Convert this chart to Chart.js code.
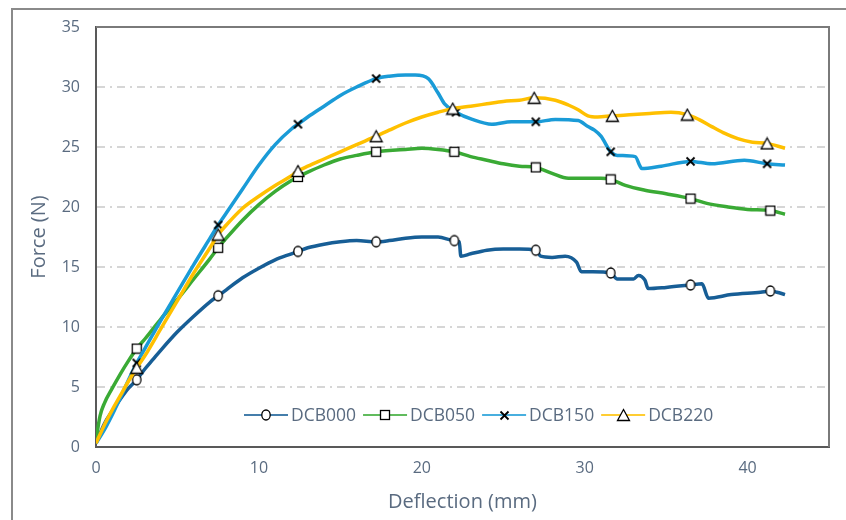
<!DOCTYPE html>
<html>
<head>
<meta charset="utf-8">
<script src="https://cdn.jsdelivr.net/npm/chart.js@4.4.1/dist/chart.umd.min.js"></script>
<style>
  html, body { margin: 0; padding: 0; background: #fff; }
  #wrap { width: 846px; height: 520px; }
</style>
</head>
<body>
<div id="wrap"><canvas id="forceChart" width="846" height="520"></canvas></div>
<script>
// Force vs deflection, one curve per DCB specimen
const labels = ['DCB000', 'DCB050', 'DCB150', 'DCB220'];
const colors = ['#175e96', '#3aaa35', '#1a9bd7', '#ffc000'];

const dcb000X = [0, 0.5, 1, 1.5, 2, 2.5, 3, 3.5, 4, 5, 6, 7, 7.5, 8, 9, 10, 11, 12, 12.4, 13, 14, 15, 16, 17.2, 18, 19, 20, 21, 22,
  22.3, 22.4, 23, 24, 25, 26, 27, 27.3, 28, 28.8, 29.5, 29.8, 30.5, 31.6, 32, 33, 33.3, 33.7, 33.9, 35, 36.5, 37.2, 37.6, 39, 40.8, 41.4, 41.8, 42.3];
const dcb000Y = [0.3, 1.9, 3.0, 4.0, 4.9, 5.6, 6.5, 7.3, 8.1, 9.6, 10.9, 12.1, 12.6, 13.1, 14.1, 14.9, 15.6, 16.1, 16.3, 16.6, 16.9, 17.1, 17.2, 17.1, 17.2, 17.4, 17.5, 17.5, 17.2,
  17.1, 15.9, 16.1, 16.4, 16.5, 16.5, 16.4, 15.9, 15.8, 15.9, 15.4, 14.6, 14.6, 14.5, 14.0, 14.0, 14.3, 13.9, 13.2, 13.3, 13.5, 13.6, 12.4, 12.7, 12.9, 13.0, 12.9, 12.7];
const dcb000Marks = [2.5, 7.5, 12.4, 17.2, 22, 27, 31.6, 36.5, 41.4];

const dcb050X = [0, 0.25, 0.5, 1, 1.5, 2, 2.5, 3, 4, 5, 6, 7, 7.5, 8, 9, 10, 11, 12, 12.4, 13, 14, 15, 16, 17.2, 18, 19, 20, 21, 22, 23,
  24, 25, 26, 27, 28, 29, 30, 31, 31.6, 32.5, 33.7, 35, 36.5, 37.5, 38.8, 40, 41.4, 42.3];
const dcb050Y = [0.6, 2.6, 3.6, 4.9, 6.1, 7.2, 8.2, 9.0, 10.7, 12.3, 14.0, 15.7, 16.6, 17.4, 18.9, 20.2, 21.3, 22.2, 22.5, 22.9, 23.5, 24.0, 24.3, 24.6, 24.7, 24.8, 24.9, 24.8, 24.6, 24.2,
  23.9, 23.6, 23.4, 23.3, 22.8, 22.4, 22.4, 22.4, 22.3, 21.8, 21.4, 21.1, 20.7, 20.3, 20.0, 19.8, 19.7, 19.4];
const dcb050Marks = [2.5, 7.5, 12.4, 17.2, 22, 27, 31.6, 36.5, 41.4];

const dcb150X = [0, 0.5, 1, 1.5, 2, 2.5, 3, 4, 5, 6, 7, 7.5, 8, 9, 10, 11, 12, 12.4, 13, 14, 15, 16, 17.2, 18, 19, 19.6, 20.4, 21, 21.4, 22.1,
  23.1, 24.3, 25.5, 27, 28.2, 29.6, 30.2, 30.6, 31, 31.6, 32, 33.1, 33.4, 33.5, 34.7, 36.5, 37.8, 39.8, 41.2, 42.3];
const dcb150Y = [0.3, 1.4, 2.7, 4.1, 5.6, 7.0, 8.2, 10.6, 12.9, 15.2, 17.4, 18.5, 19.5, 21.5, 23.5, 25.2, 26.5, 26.9, 27.5, 28.4, 29.3, 30.0, 30.7, 30.9, 31.0, 31.0, 30.7, 29.5, 28.6, 27.9,
  27.3, 26.9, 27.1, 27.1, 27.3, 27.2, 26.7, 26.4, 25.9, 24.6, 24.3, 24.2, 23.4, 23.2, 23.4, 23.8, 23.6, 23.9, 23.6, 23.5];
const dcb150Marks = [2.5, 7.5, 12.4, 17.2, 22.1, 27, 31.6, 36.5, 41.2];

const dcb220X = [0, 0.5, 1, 1.5, 2, 2.5, 3, 4, 5, 6, 7, 7.5, 8, 9, 10, 11, 12, 12.4, 13, 14, 15, 16, 17.2, 18, 19, 20, 21, 21.9, 23, 24,
  25, 26, 26.9, 28.2, 29, 29.6, 30.2, 30.8, 31.7, 33, 34, 35.3, 36.3, 37, 37.8, 38.5, 39.4, 40.3, 41.2, 42.3];
const dcb220Y = [0.3, 1.8, 3.1, 4.3, 5.5, 6.6, 7.6, 9.9, 12.2, 14.5, 16.6, 17.7, 18.5, 19.9, 20.9, 21.8, 22.6, 23.0, 23.4, 24.0, 24.6, 25.2, 25.9, 26.4, 27.0, 27.5, 27.9, 28.2, 28.4, 28.6,
  28.8, 28.9, 29.1, 28.9, 28.5, 28.1, 27.6, 27.5, 27.6, 27.7, 27.8, 27.9, 27.7, 27.3, 26.7, 26.2, 25.7, 25.4, 25.3, 24.9];
const dcb220Marks = [2.5, 7.5, 12.4, 17.2, 21.9, 26.9, 31.7, 36.3, 41.2];

const textColor = '#5a6b80';

// marker glyphs: white fill, black outline
function makeMarker(kind) {
  const c = document.createElement('canvas');
  let g;
  if (kind === 'ellipse') {
    c.width = 12; c.height = 14;
    g = c.getContext('2d');
    g.lineWidth = 1.3; g.strokeStyle = '#000'; g.fillStyle = '#fff';
    g.beginPath();
    g.ellipse(6, 7, 4.2, 5, 0, 0, Math.PI * 2);
    g.fill(); g.stroke();
  } else if (kind === 'square') {
    c.width = 12; c.height = 12;
    g = c.getContext('2d');
    g.lineWidth = 1.3; g.strokeStyle = '#000'; g.fillStyle = '#fff';
    g.fillRect(1.5, 1.5, 9, 9);
    g.strokeRect(1.5, 1.5, 9, 9);
  } else if (kind === 'cross') {
    c.width = 11; c.height = 11;
    g = c.getContext('2d');
    g.lineWidth = 1.8; g.strokeStyle = '#000';
    g.beginPath();
    g.moveTo(1.5, 1.5); g.lineTo(9.5, 9.5);
    g.moveTo(9.5, 1.5); g.lineTo(1.5, 9.5);
    g.stroke();
  } else {
    c.width = 15; c.height = 14;
    g = c.getContext('2d');
    g.lineWidth = 1.3; g.strokeStyle = '#000'; g.fillStyle = '#fff';
    g.beginPath();
    g.moveTo(7.5, 1.5); g.lineTo(13.5, 12.5); g.lineTo(1.5, 12.5);
    g.closePath();
    g.fill(); g.stroke();
  }
  return c;
}

function makeSeries(i, xs, ys, marks, kind) {
  return {
    label: labels[i],
    data: xs.map((x, k) => ({ x: x, y: ys[k] })),
    borderColor: colors[i],
    backgroundColor: colors[i],
    borderWidth: 3.5,
    cubicInterpolationMode: 'monotone',
    pointStyle: makeMarker(kind),
    pointRadius: ctx => (ctx.raw && marks.includes(ctx.raw.x)) ? 5 : 0,
    pointHoverRadius: 0,
    order: 4 - i
  };
}

// outer frame and plot box
const frames = {
  id: 'frames',
  beforeDraw(chart) {
    const { ctx } = chart;
    ctx.save();
    ctx.strokeStyle = '#8a8a8a';
    ctx.lineWidth = 2;
    ctx.strokeRect(12, 9, 900, 600);
    ctx.restore();
  },
  beforeDatasetsDraw(chart) {
    const { ctx, chartArea: a } = chart;
    ctx.save();
    ctx.strokeStyle = '#7a7a7a';
    ctx.lineWidth = 2;
    ctx.beginPath();
    ctx.moveTo(a.left, a.top);
    ctx.lineTo(a.right, a.top);
    ctx.lineTo(a.right, a.bottom);
    ctx.stroke();
    ctx.restore();
  }
};

// legend inside the plot: line with marker, then label
const insideLegend = {
  id: 'insideLegend',
  afterDatasetsDraw(chart) {
    const { ctx, chartArea } = chart;
    let x = chartArea.left + 148;
    const y = chartArea.bottom - 32;
    ctx.save();
    ctx.font = '17.5px "Open Sans", sans-serif';
    ctx.textBaseline = 'middle';
    chart.data.datasets.forEach(ds => {
      ctx.globalAlpha = 0.8;
      ctx.strokeStyle = ds.borderColor;
      ctx.lineWidth = 2;
      ctx.beginPath();
      ctx.moveTo(x, y);
      ctx.lineTo(x + 44, y);
      ctx.stroke();
      ctx.globalAlpha = 1;
      const m = ds.pointStyle;
      ctx.drawImage(m, Math.round(x + 22 - m.width / 2), Math.round(y - m.height / 2));
      ctx.fillStyle = textColor;
      ctx.fillText(ds.label, x + 47, y + 1);
      x += 47 + ctx.measureText(ds.label).width + 7;
    });
    ctx.restore();
  }
};

Chart.defaults.font.family = '"Open Sans", sans-serif';
Chart.defaults.color = textColor;

const chart = new Chart(document.getElementById('forceChart'), {
  type: 'line',
  data: {
    datasets: [
      makeSeries(0, dcb000X, dcb000Y, dcb000Marks, 'ellipse'),
      makeSeries(1, dcb050X, dcb050Y, dcb050Marks, 'square'),
      makeSeries(2, dcb150X, dcb150Y, dcb150Marks, 'cross'),
      makeSeries(3, dcb220X, dcb220Y, dcb220Marks, 'triangle')
    ]
  },
  options: {
    responsive: false,
    animation: false,
    devicePixelRatio: 1,
    layout: { padding: { left: 27, top: 27, right: 17, bottom: 0 } },
    plugins: {
      legend: { display: false },
      tooltip: { enabled: false }
    },
    scales: {
      x: {
        type: 'linear',
        min: 0,
        max: 45,
        afterBuildTicks: scale => { scale.ticks = scale.ticks.filter(t => t.value % 10 === 0); },
        afterFit: scale => { scale.height = 73; },
        ticks: { stepSize: 10, padding: 12, font: { size: 16 }, color: textColor },
        grid: { display: false, drawTicks: false },
        border: { display: true, color: '#595959', width: 2 },
        title: { display: true, text: 'Deflection (mm)', font: { size: 20 }, color: textColor, padding: { top: 4, bottom: 6 } }
      },
      y: {
        min: 0,
        max: 35,
        afterFit: scale => { scale.width = 69; },
        ticks: { stepSize: 5, padding: 16, font: { size: 16 }, color: textColor },
        grid: {
          drawTicks: false,
          lineWidth: 2,
          color: ctx => (ctx.tick && (ctx.tick.value === 0 || ctx.tick.value === 35)) ? 'rgba(0,0,0,0)' : '#d6d6d6'
        },
        border: { display: true, color: '#595959', width: 2, dash: [8, 5, 2, 5] },
        title: { display: true, text: 'Force (N)', font: { size: 20 }, color: textColor, padding: { top: 0, bottom: 4 } }
      }
    }
  },
  plugins: [frames, insideLegend]
});
</script>
</body>
</html>
